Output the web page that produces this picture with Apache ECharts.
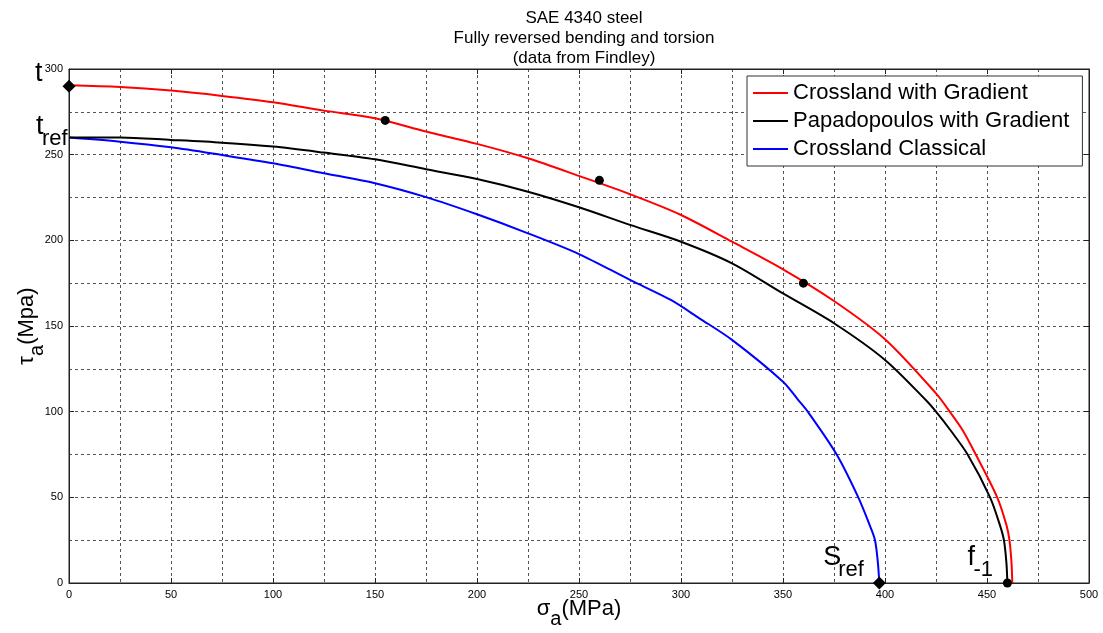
<!DOCTYPE html>
<html style="height: 100%">
  <head>
    <meta charset="UTF-8" />
    <title>SAE 4340 steel</title>
    <script src="https://cdn.jsdelivr.net/npm/echarts@6/dist/echarts.min.js"></script>
  </head>
  <body style="height: 100%; margin: 0; background-color: #fff">
    <div id="main" style="width: 1103px; height: 633px; margin: 0"></div>
    <script type="text/javascript">
      // curves: [sigma_a, tau_a]
      var crosslandGradient = [
        [0, 290.5], [25, 289.5], [50, 287.4], [75, 284.3], [100, 280.6],
        [125, 275.7], [150, 271.3], [175, 263.5], [200, 256.3], [225, 247.9],
        [250, 237.6], [275, 226.9], [300, 214.8], [325, 199.2], [350, 183.1],
        [375, 164.6], [400, 142.3], [425, 110.7], [432, 99.6], [438, 89.3],
        [444.5, 75], [455, 50], [459.6, 33.5], [461, 25], [462, 12], [462.4, 0]
      ];
      var papadopoulosGradient = [
        [0, 260], [25, 260], [50, 258.6], [75, 257], [100, 254.7],
        [125, 251.2], [150, 247.3], [175, 241.5], [200, 235.8], [225, 228.4],
        [250, 219.3], [275, 209], [300, 199.2], [325, 186.6], [350, 169],
        [375, 151.6], [400, 130.2], [420, 106.8], [425, 100], [432, 89.3],
        [440.5, 75], [451.5, 50], [456.4, 33.5], [458.3, 25], [459.5, 12], [460, 0]
      ];
      var crosslandClassical = [
        [0, 260], [25, 257.6], [50, 254.3], [75, 249.8], [100, 245],
        [125, 239.2], [150, 233.3], [175, 225.2], [200, 215.2], [225, 204.1],
        [250, 192], [275, 176.9], [295, 165.2], [309, 154.5], [325, 141.9],
        [350, 117.5], [357.5, 106.8], [362.4, 99.6], [376.3, 75],
        [386.9, 50], [392.6, 33.5], [395.1, 25], [396.5, 12], [397.2, 0]
      ];
      // experimental points
      var diamondPoints = [[0, 290], [397.2, 0]];
      var circlePoints = [[155, 270], [260, 235], [360, 175], [460, 0]];

      var seriesNames = ["Crossland with Gradient", "Papadopoulos with Gradient", "Crossland Classical"];
      var titleLines = ["SAE 4340 steel", "Fully reversed bending and torsion", "(data from Findley)"];

      // labels t, t_ref, S_ref, f_-1 anchored at data points
      var annoMain = ["t", "t", "S", "f"];
      var annoSub = ["", "ref", "ref", "-1"];
      var annoAt = [[0, 290], [0, 260], [397.2, 0], [460, 0]];

      var FONT = "'Liberation Sans', Arial, sans-serif";
      var gridDash = { color: "#555", type: [3, 3], width: 1 };

      var chart = echarts.init(document.getElementById("main"));

      function xAxisOf(pos, showLabel) {
        return {
          type: "value", position: pos, min: 0, max: 500, interval: 50,
          axisLine: { show: true, onZero: false, lineStyle: { color: "#222" } },
          axisTick: { show: true, inside: true, length: 5, lineStyle: { color: "#222" } },
          axisLabel: { show: showLabel, color: "#000", fontSize: 11, fontFamily: FONT, margin: 6 },
          splitLine: { show: showLabel, lineStyle: gridDash },
          minorTick: { show: false, splitNumber: 2 },
          minorSplitLine: { show: showLabel, lineStyle: gridDash }
        };
      }
      function yAxisOf(pos, showLabel) {
        return {
          type: "value", position: pos, min: 0, max: 300, interval: 50,
          axisLine: { show: true, onZero: false, lineStyle: { color: "#222" } },
          axisTick: { show: true, inside: true, length: 5, lineStyle: { color: "#222" } },
          axisLabel: { show: showLabel, color: "#000", fontSize: 11, fontFamily: FONT, margin: 6 },
          splitLine: { show: showLabel, lineStyle: gridDash },
          minorTick: { show: false, splitNumber: 2 },
          minorSplitLine: { show: showLabel, lineStyle: gridDash }
        };
      }

      var nameRich = {
        n: { fontSize: 22, fontFamily: FONT, color: "#000", verticalAlign: "top" },
        s: { fontSize: 20, fontFamily: FONT, color: "#000", verticalAlign: "top", padding: [11, 0, 0, 0] }
      };
      var xMain = xAxisOf("bottom", true);
      xMain.name = "{n|σ}{s|a}{n|(MPa)}";
      xMain.nameLocation = "middle";
      xMain.nameGap = 15;
      xMain.nameMoveOverlap = false;
      xMain.nameTextStyle = { rich: nameRich };
      var yMain = yAxisOf("left", true);
      yMain.name = "{n|τ}{s|a}{n|(Mpa)}";
      yMain.nameLocation = "middle";
      yMain.nameRotate = 90;
      yMain.nameGap = 22;
      yMain.nameMoveOverlap = false;
      yMain.nameTextStyle = { rich: nameRich };

      var lineColors = ["#ff0000", "#000000", "#0000ff"];
      var curves = [crosslandGradient, papadopoulosGradient, crosslandClassical];

      var series = curves.map(function (d, i) {
        return {
          name: seriesNames[i], type: "line", data: d, symbol: "none",
          smooth: 0.3, clip: false, lineStyle: { color: lineColors[i], width: 2 },
          itemStyle: { color: lineColors[i] }, z: 3 - i
        };
      });
      series.push({
        type: "scatter", data: diamondPoints, symbol: "diamond", symbolSize: 13,
        itemStyle: { color: "#000", opacity: 1 }, z: 10, clip: false, silent: true
      });
      series.push({
        type: "scatter", data: circlePoints, symbol: "circle", symbolSize: 9,
        itemStyle: { color: "#000", opacity: 1 }, z: 10, clip: false, silent: true
      });

      chart.setOption({
        animation: false,
        title: {
          text: titleLines.join("\n"),
          left: 579, top: 3, textAlign: "center",
          textStyle: { fontSize: 17, fontWeight: "normal", fontFamily: FONT, color: "#000", lineHeight: 20 }
        },
        grid: {
          left: 69, right: 14, top: 69, bottom: 50, outerBoundsMode: "none",
          show: true, borderColor: "#222", borderWidth: 1
        },
        xAxis: [xMain, xAxisOf("top", false)],
        yAxis: [yMain, yAxisOf("right", false)],
        legend: {
          data: seriesNames, orient: "vertical", left: 747, top: 76,
          icon: "rect", itemWidth: 35, itemHeight: 2, itemGap: 6,
          padding: [6, 13, 6, 6], backgroundColor: "#fff",
          borderColor: "#333", borderWidth: 1, borderRadius: 0,
          textStyle: { fontSize: 22, fontFamily: FONT, color: "#000" }
        },
        series: series
      });

      // annotation text next to the marked points
      var mainOff = [[-34, 1], [-33, 3], [-56, -12], [-40, -12]];
      var subOff = [[0, 0], [-27, 12], [-41, -2], [-34, -2]];
      var graphics = [];
      annoAt.forEach(function (p, i) {
        var px = chart.convertToPixel({ gridIndex: 0 }, p);
        graphics.push({
          type: "text", x: px[0] + mainOff[i][0], y: px[1] + mainOff[i][1], z: 20,
          style: { text: annoMain[i], font: "27px " + FONT, fill: "#000", verticalAlign: "bottom" }
        });
        if (annoSub[i]) {
          graphics.push({
            type: "text", x: px[0] + subOff[i][0], y: px[1] + subOff[i][1], z: 20,
            style: { text: annoSub[i], font: "22px " + FONT, fill: "#000", verticalAlign: "bottom" }
          });
        }
      });
      chart.setOption({ graphic: graphics });
    </script>
  </body>
</html>
